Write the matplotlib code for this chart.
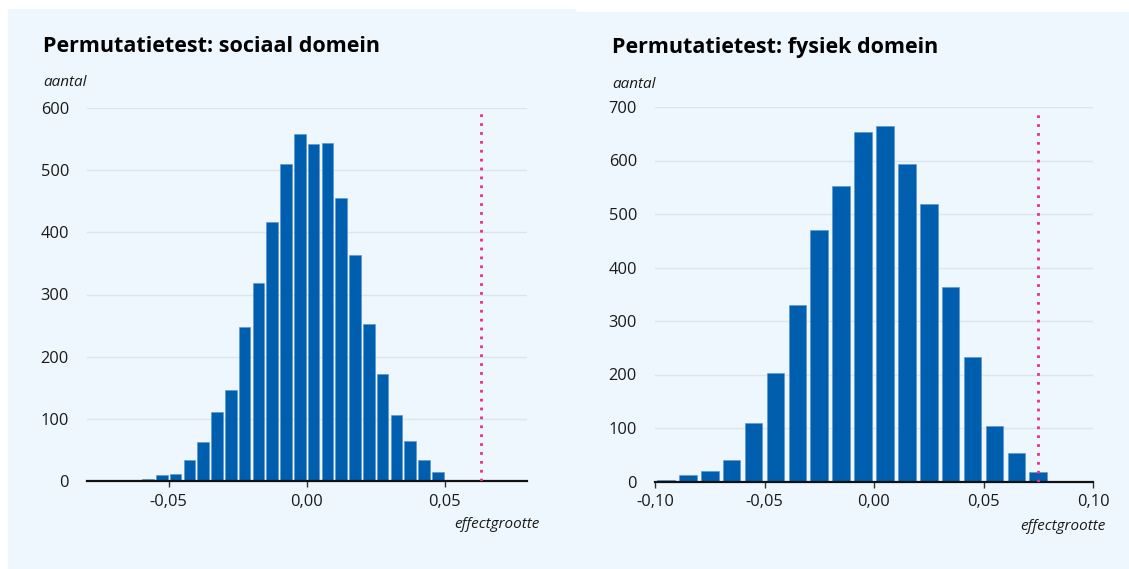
import numpy as np
import matplotlib
matplotlib.use("Agg")
import matplotlib.pyplot as plt
from matplotlib.patches import Rectangle
from matplotlib.ticker import FuncFormatter

plt.rcParams['font.family'] = ['Open Sans', 'DejaVu Sans']

# sociaal domein: bin centres (bin width 0.005) and counts
soc_centers = [-0.0575, -0.0525, -0.0475, -0.0425, -0.0375, -0.0325, -0.0275, -0.0225,
               -0.0175, -0.0125, -0.0075, -0.0025, 0.0025, 0.0075, 0.0125, 0.0175,
               0.0225, 0.0275, 0.0325, 0.0375, 0.0425, 0.0475]
soc_counts = [4, 10, 12, 34, 62, 111, 146, 247, 319, 416, 510, 558, 542, 544, 455, 364,
              253, 172, 106, 65, 33, 14]
soc_observed = 0.063

# fysiek domein: bin centres (bin width 0.01) and counts
fys_centers = [-0.095, -0.085, -0.075, -0.065, -0.055, -0.045, -0.035, -0.025, -0.015,
               -0.005, 0.005, 0.015, 0.025, 0.035, 0.045, 0.055, 0.065, 0.075]
fys_counts = [3, 12, 19, 41, 110, 202, 329, 471, 553, 654, 665, 594, 519, 363, 233,
              104, 54, 18]
fys_observed = 0.075

BG = "#eef7fd"
BAR = "#005eae"
PINK = "#e8308a"
GRID = "#dbe5ee"
TXT = "#1a1a1a"

W, H = 1129, 569
fig = plt.figure(figsize=(W / 100, H / 100), dpi=100)
fig.patch.set_facecolor("white")

# panel backgrounds
fig.patches.append(Rectangle((8 / W, 0), (575 - 8) / W, (H - 9) / H,
                             transform=fig.transFigure, color=BG, zorder=-10))
fig.patches.append(Rectangle((576 / W, 0), (W - 576) / W, (H - 12) / H,
                             transform=fig.transFigure, color=BG, zorder=-10))


def comma(v, pos):
    s = f"{v:.2f}".replace(".", ",")
    if s.startswith("-") and float(v) == 0:
        s = s[1:]
    return s


def panel(rect, centers, counts, binw, frac, xlim, xticks, ymax, yticks, observed,
          title, tx, ty_title, ty_lab, ex, ey):
    ax = fig.add_axes(rect)
    ax.set_facecolor("none")
    ax.bar(centers, counts, width=binw * frac, color=BAR, edgecolor="#5a92cc",
           linewidth=0.4, zorder=3)
    ax.set_xlim(*xlim)
    ax.set_ylim(0, ymax)
    ax.set_yticks(yticks)
    ax.set_xticks(xticks)
    ax.xaxis.set_major_formatter(FuncFormatter(comma))
    ax.grid(axis="y", color=GRID, linewidth=1, zorder=0)
    ax.set_axisbelow(True)
    for s in ax.spines.values():
        s.set_visible(False)
    ax.axhline(0, color="#111111", linewidth=1.6, zorder=4, clip_on=False)
    ax.plot([observed, observed], [0, yticks[-1] * 0.995], color=PINK,
            linestyle=(0, (1, 2.2)), linewidth=2, zorder=5)
    ax.tick_params(axis="y", length=0, pad=13, labelsize=11.8, labelcolor=TXT)
    ax.tick_params(axis="x", length=4, width=1, color="#333333", pad=5,
                   labelsize=11.8, labelcolor=TXT)
    fig.text(tx / W, 1 - ty_title / H, title, fontsize=15.5, fontweight="bold",
             color="black", va="center", ha="left")
    fig.text(tx / W, 1 - ty_lab / H, "aantal", fontsize=11, style="italic",
             color=TXT, va="center", ha="left")
    fig.text(ex / W, 1 - ey / H, "effectgrootte", fontsize=11, style="italic",
             color=TXT, va="center", ha="right")
    return ax


panel([87 / W, 1 - 481 / H, 440 / W, 373 / H], soc_centers, soc_counts, 0.005, 0.84,
      (-0.0796, 0.0798), [-0.05, 0.0, 0.05], 600, [0, 100, 200, 300, 400, 500, 600],
      soc_observed, "Permutatietest: sociaal domein", 43, 47, 82, 540, 524)

panel([655 / W, 1 - 481.5 / H, 438 / W, 374.5 / H], fys_centers, fys_counts, 0.01, 0.8,
      (-0.1, 0.1), [-0.10, -0.05, 0.0, 0.05, 0.10], 700,
      [0, 100, 200, 300, 400, 500, 600, 700],
      fys_observed, "Permutatietest: fysiek domein", 612, 47, 84, 1106, 526)

fig.savefig("out.png", dpi=100, facecolor=fig.get_facecolor())
